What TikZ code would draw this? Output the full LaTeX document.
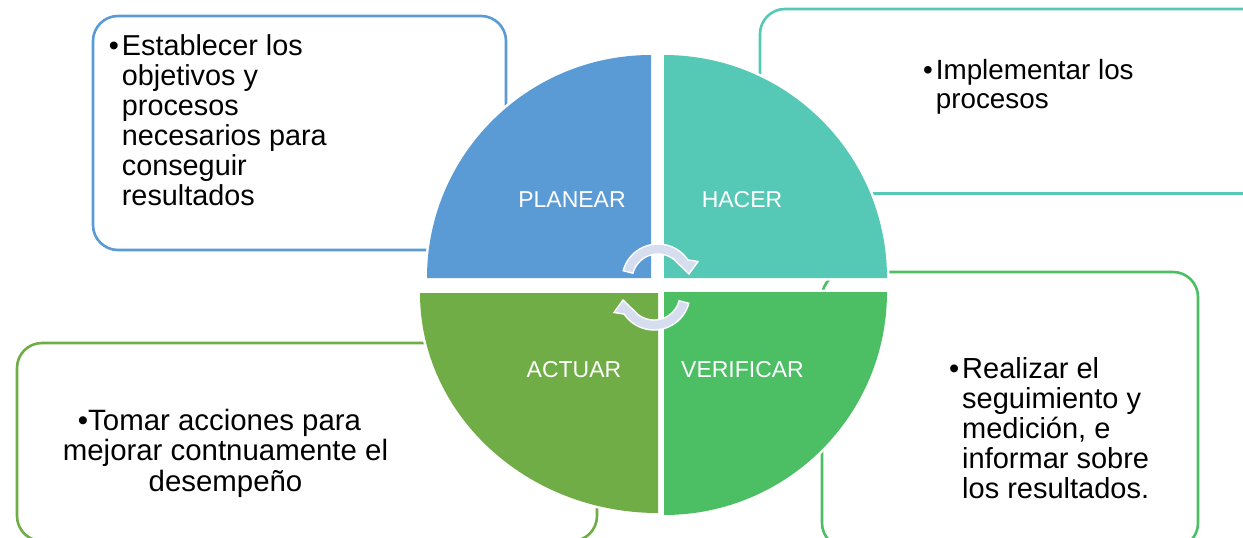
\documentclass[tikz,border=0pt]{standalone}
\usepackage{fontspec}
\setmainfont{Liberation Sans}
\definecolor{cBlue}{HTML}{5B9BD5}
\definecolor{cTeal}{HTML}{55C9B6}
\definecolor{cGreen}{HTML}{4CBF64}
\definecolor{cOlive}{HTML}{70AD47}
\definecolor{cArrow}{HTML}{D6DDEF}
\begin{document}
\begin{tikzpicture}[x=1pt,y=-1pt,
  box/.style={line width=2.6pt, rounded corners=25pt},
  quad/.style={preaction={draw=white, line width=5pt}},
  cyc/.style={fill=cArrow, draw=white, line width=1.4pt, line join=miter},
  lbl/.style={text=white, font=\fontsize{23}{26}\selectfont, inner sep=0pt, anchor=base},
  txt/.style={text=black, inner sep=0pt, anchor=base west}]
\useasboundingbox (0,0) rectangle (1243,538);

% text boxes (behind the circle)
\draw[box, draw=cBlue]  (93,16) rectangle (506,250);
\draw[box, draw=cTeal]  (760,9) rectangle (1290,193.5);
\draw[box, draw=cGreen] (822,272) rectangle (1198,548);
\draw[box, draw=cOlive] (17,343) rectangle (597,541);

% quadrants
\fill[quad, cBlue]  (651,278) -- (427,278) arc[start angle=180, end angle=90, x radius=224pt, y radius=223pt] -- cycle;
\fill[quad, cTeal]  (664,278) -- (664,55) arc[start angle=90, end angle=0, radius=223pt] -- cycle;
\fill[quad, cGreen] (664,292) -- (887,292) arc[start angle=0, end angle=-90, radius=223pt] -- cycle;
\fill[quad, cOlive] (658,293) -- (658,513) arc[start angle=270, end angle=180, x radius=238pt, y radius=220pt] -- cycle;

% cycle arrows
\begin{scope}[shift={(658,280)}]
\path[cyc] (-34.8pt,9.3pt) arc[start angle=165, end angle=34, radius=36pt]
  -- (40pt,18.5pt) -- (31pt,6pt) -- (14.5pt,22pt) -- (15.5pt,20.9pt)
  arc[start angle=53.4, end angle=165, radius=26pt] -- cycle;
\end{scope}
\begin{scope}[rotate around={180:(656,287)}]
\begin{scope}[shift={(658,280)}]
\path[cyc] (-34.8pt,9.3pt) arc[start angle=165, end angle=34, radius=36pt]
  -- (40pt,18.5pt) -- (31pt,6pt) -- (14.5pt,22pt) -- (15.5pt,20.9pt)
  arc[start angle=53.4, end angle=165, radius=26pt] -- cycle;
\end{scope}
\end{scope}

% quadrant labels
\node[lbl] (planear) at (572,207.7) {PLANEAR};
\node[lbl] (hacer) at (742,207.7) {HACER};
\node[lbl] (actuar) at (574,377.5) {ACTUAR};
\node[lbl] (verificar) at (742.5,377.5) {VERIFICAR};

% box texts
\node[txt, font=\fontsize{28.8}{30}\selectfont] (tplan) at (121.7,55)
  {\begin{tabular}[t]{@{}l@{}}\llap{•\hspace{3pt}}Establecer los\\objetivos y\\procesos\\necesarios para\\conseguir\\resultados\end{tabular}};
\node[txt, font=\fontsize{27.8}{29.3}\selectfont] (thac) at (935.7,79)
  {\begin{tabular}[t]{@{}l@{}}\llap{•\hspace{3pt}}Implementar los\\procesos\end{tabular}};
\node[txt, font=\fontsize{29}{30}\selectfont] (tver) at (962,378.3)
  {\begin{tabular}[t]{@{}l@{}}\llap{•\hspace{3pt}}Realizar el\\seguimiento y\\medición, e\\informar sobre\\los resultados.\end{tabular}};
\node[txt, anchor=base, font=\fontsize{29.4}{30.5}\selectfont] (tact) at (225.5,430)
  {\begin{tabular}[t]{@{}c@{}}•Tomar acciones para\hspace*{12pt}\\mejorar contnuamente el\\desempeño\end{tabular}};
\end{tikzpicture}
\end{document}
